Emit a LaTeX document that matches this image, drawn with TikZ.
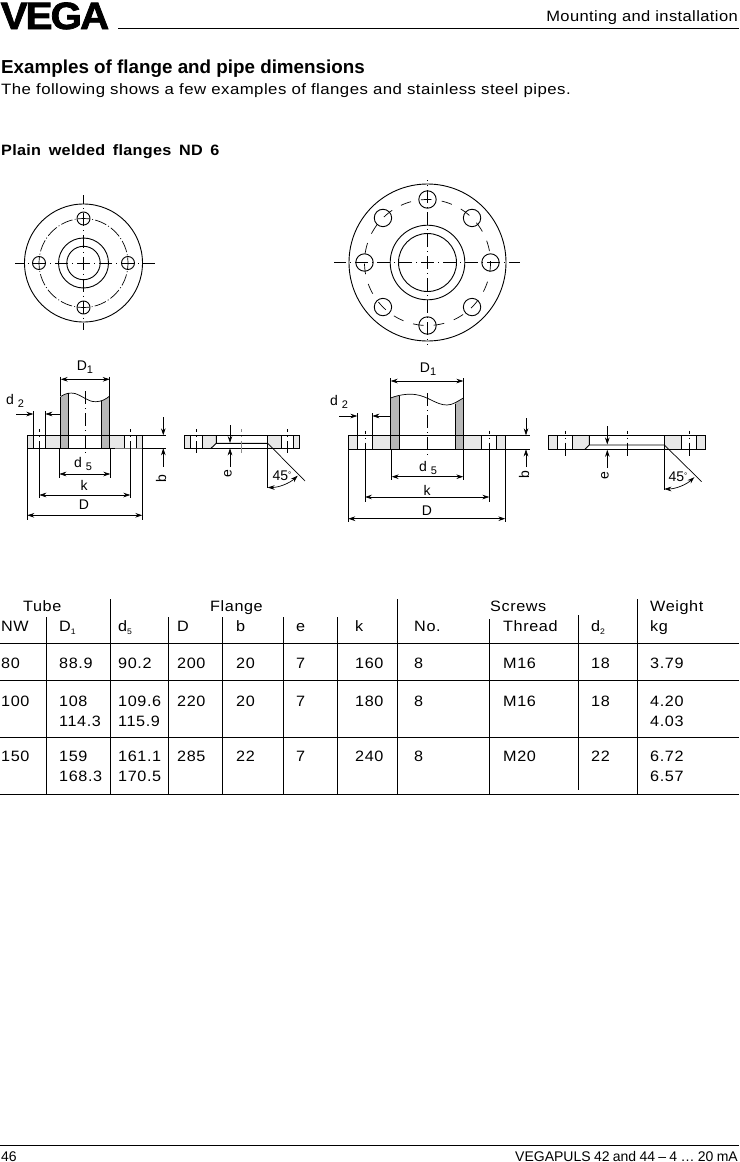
\documentclass[tikz,border=0pt]{standalone}
\usepackage{fontspec}
\setmainfont{Liberation Sans}
\newfontfamily\tsp[LetterSpace=4,FakeStretch=1.08]{Liberation Sans}
\newfontfamily\tsq[LetterSpace=3,FakeStretch=1.12]{Liberation Sans}
\newfontfamily\tsh[LetterSpace=2.7,FakeStretch=1.1]{Liberation Sans}
\newfontfamily\tspb[LetterSpace=2,FakeStretch=1.08,WordSpace=1.6]{Liberation Sans Bold}
\newfontfamily\ftf[WordSpace=0.85]{Liberation Sans}
\newfontfamily\logofont[LetterSpace=-5,FakeBold=2,FakeStretch=1.06]{Liberation Sans Bold}
\usetikzlibrary{arrows.meta}
\newcount\nn
\newcommand\tc[3]{\global\advance\nn by 1 \node[cell] (c\the\nn) at (#1,#2) {#3};}
\newcommand\dl[3]{\global\advance\nn by 1 \node[dlab] (c\the\nn) at (#1,#2) {#3};}
\newcommand\sbs[1]{\raisebox{-3pt}{\fontsize{8}{8}\selectfont #1}}
\newcommand\dsb[1]{\raisebox{-3pt}{\fontsize{11}{11}\selectfont #1}}
\newcommand\dg{\raisebox{3pt}{\fontsize{8}{8}\selectfont °}}
\definecolor{flangegray}{gray}{0.91}
\definecolor{wallgray}{gray}{0.72}
\tikzset{
  cell/.style={anchor=base west,inner sep=0pt,font=\tsp\fontsize{15}{18}\selectfont},
  dlab/.style={anchor=center,inner sep=0pt,font=\fontsize{14}{16}\selectfont},
  heavy/.style={line width=0.9pt,black},
  thin line/.style={line width=0.7pt,black},
  cl/.style={line width=0.7pt,black,dash pattern=on 13pt off 4pt on 1pt off 4pt,dash phase=6.5pt},
  holecl/.style={line width=0.7pt,black,dash pattern=on 3pt off 4pt on 1pt off 4pt on 20pt off 0pt},
  dim/.style={line width=0.7pt,black,-{Stealth[length=7pt,width=4.6pt]}},
  dimb/.style={line width=0.7pt,black,{Stealth[length=7pt,width=4.6pt]}-{Stealth[length=7pt,width=4.6pt]}},
  rule/.style={line width=0.8pt,black},
  vrule/.style={line width=0.8pt,black}
}
\begin{document}
\begin{tikzpicture}[x=1pt,y=-1pt]
\useasboundingbox (0,0) rectangle (739,1162);
\fill[white] (0,0) rectangle (739,1162);

% ---- header / footer
\node[anchor=base west,inner sep=0pt,font=\logofont\fontsize{38}{38}\selectfont] (logo) at (0.5,29) {VEGA};
\draw[rule] (118,28.5) -- (739,28.5);
\node[anchor=base east,inner sep=0pt,font=\tsh\fontsize{15}{18}\selectfont] (hdr) at (738,21) {Mounting and installation};
\node[anchor=base west,inner sep=0pt,font=\bfseries\fontsize{18.8}{20}\selectfont] (title) at (1,73) {Examples of flange and pipe dimensions};
\node[anchor=base west,inner sep=0pt,font=\tsq\fontsize{15}{18}\selectfont] (intro) at (1,94) {The following shows a few examples of flanges and stainless steel pipes.};
\node[anchor=base west,inner sep=0pt,font=\tspb\fontsize{15}{18}\selectfont] (sub) at (1,155) {Plain welded flanges ND 6};
\draw[rule] (0,1145) -- (739,1145);
\node[anchor=base west,inner sep=0pt,font=\fontsize{14}{16}\selectfont] (pg) at (1,1161) {46};
\node[anchor=base east,inner sep=0pt,font=\ftf\fontsize{14}{16}\selectfont] (ft) at (738,1161) {VEGAPULS 42 and 44 – 4 … 20 mA};

% ---- top view, left
\coordinate (A) at (83.5,263);
\draw[heavy] (A) circle[radius=59pt] (A) circle[radius=25pt] (A) circle[radius=16.7pt];
\draw[line width=0.7pt,dash pattern=on 12pt off 2.25pt on 1pt off 2.25pt,dash phase=6pt] (A) ++(0:44.5) arc[start angle=0,end angle=360,radius=44.5];
\foreach \a in {0,90,180,270} \draw[heavy] (A) ++(\a:44.5) circle[radius=6.5pt];
\draw[cl] (A) -- +(0:71.5);
\draw[cl] (A) -- +(180:68.5);
\draw[cl] (A) -- +(90:67);
\draw[cl] (A) -- +(270:68);

% ---- top view, right
\coordinate (B) at (427.5,262.5);
\draw[heavy] (B) circle[radius=78.5pt] (B) circle[radius=37.3pt] (B) circle[radius=29pt];
\draw[line width=0.7pt,dash pattern=on 10.7pt off 10.13pt,dash phase=1.3pt] (B) ++(0:63) arc[start angle=0,end angle=360,radius=63];
\foreach \a in {0,45,...,315} \draw[heavy] (B) ++(\a:63) circle[radius=8.7pt];
\draw[cl] (B) -- +(0:92.5);
\draw[cl] (B) -- +(180:93.5);
\draw[cl] (B) -- +(90:82.5);
\draw[cl] (B) -- +(270:82.5);

% ---- side view, left
\fill[flangegray] (27.3,435.3) rectangle (142.3,448.3);
\fill[white] (33.3,435.3) rectangle (45.3,448.3) (124.3,435.3) rectangle (136.3,448.3);
\fill[wallgray] (60.7,396.5) .. controls (66,393) and (70,392.5) .. (75,393.5) .. controls (83,396) and (88,402) .. (96,401.7) .. controls (102,401.5) and (106,399) .. (109.7,396) -- (109.7,448.3) -- (60.7,448.3) -- cycle;
\fill[white] (68.3,388) rectangle (101.3,448.3);
\draw[line width=0.7pt] (60.7,396.5) .. controls (66,393) and (70,392.5) .. (75,393.5) .. controls (83,396) and (88,402) .. (96,401.7) .. controls (102,401.5) and (106,399) .. (109.7,396);
\draw[heavy] (60.7,396.5) -- (60.7,448.3) (109.7,396) -- (109.7,448.3) (68.3,393) -- (68.3,448.3) (101.3,401) -- (101.3,448.3);
\draw[heavy] (27.3,448.3) -- (27.3,435.3) -- (142.3,435.3) -- (142.3,448.3);
\draw[heavy] (27.3,448.3) -- (115,448.3);
\draw[line width=0.7pt,black!55] (115,448.3) -- (142.3,448.3);
\draw[heavy] (33.3,435.3) -- (33.3,448.3) (45.3,435.3) -- (45.3,448.3) (124.3,435.3) -- (124.3,448.3) (136.3,435.3) -- (136.3,448.3);
\draw[line width=0.7pt,dash pattern=on 13pt off 4pt on 1pt off 4pt] (85,391) -- (85,453);
\draw[holecl] (39.3,429) -- (39.3,448);
\draw[holecl] (130.3,429) -- (130.3,448);
% dimensions
\draw[thin line] (60.7,376.5) -- (60.7,396) (109.7,376.5) -- (109.7,396);
\draw[dimb] (60.7,379.3) -- (109.7,379.3);
\draw[thin line] (33.3,411) -- (33.3,435) (45.3,411) -- (45.3,435);
\draw[dim] (16,414) -- (33.3,414);
\draw[dim] (60.7,414) -- (45.3,414);
\draw[thin line] (59.3,448) -- (59.3,478) (110.3,448) -- (110.3,478);
\draw[dimb] (59.3,474) -- (110.3,474);
\draw[thin line] (39.3,448) -- (39.3,498) (130.3,448) -- (130.3,498);
\draw[dimb] (39.3,495) -- (130.3,495);
\draw[thin line] (27.3,448) -- (27.3,520) (142.3,448) -- (142.3,520);
\draw[dimb] (27.3,515.3) -- (142.3,515.3);
\draw[thin line] (142.3,435.3) -- (166,435.3) (142.3,448.3) -- (166,448.3);
\draw[dim] (163.3,417) -- (163.3,435.3);
\draw[dim] (163.3,466.7) -- (163.3,448.3);
\dl{85}{367}{D\dsb{1}}
\dl{15}{401}{d \dsb{2}}
\dl{83}{463.5}{d \dsb{5}}
\dl{84}{485}{k}
\dl{84}{504.5}{D}
\node[dlab,rotate=90] (bL) at (161,479) {b};

% ---- detail, left
\fill[flangegray] (184.3,435.3) rectangle (299.3,448.3);
\fill[white] (190.3,435.3) rectangle (202.7,448.3) (281.7,435.3) rectangle (293.7,448.3);
\fill[white] (216.3,435.3) -- (267.7,435.3) -- (267.7,448.3) -- (211,448.3) -- (216.3,443.3) -- cycle;
\draw[heavy] (184.3,435.3) rectangle (299.3,448.3);
\draw[heavy] (190.3,435.3) -- (190.3,448.3) (202.7,435.3) -- (202.7,448.3) (281.7,435.3) -- (281.7,448.3) (293.7,435.3) -- (293.7,448.3);
\draw[heavy] (211,448.3) -- (216.3,443.3) -- (267.7,443.3) (216.3,435.3) -- (216.3,443.3);
\draw[thin line] (267.7,435.3) -- (267.7,488.3);
\draw[thin line] (267.7,443.3) -- (305,481);
\draw[dimb] (267.7,487.5) arc[start angle=90,end angle=47,radius=44];
\draw[holecl] (196.7,429) -- (196.7,453);
\draw[holecl] (287.3,429) -- (287.3,453);
\draw[holecl,line width=0.9pt,black!45] (241.7,429) -- (241.7,453);
\draw[dim] (230,425) -- (230,443);
\draw[dim] (230,466.7) -- (230,448.3);
\node[dlab,rotate=90] (eL) at (228,474) {e};
\dl{282}{476}{45\dg}

% ---- side view, right
\fill[flangegray] (348.3,435.3) rectangle (505.3,449.3);
\fill[white] (357.3,435.3) rectangle (372.3,449.3) (481.3,435.3) rectangle (496.3,449.3);
\fill[wallgray] (390.7,398) .. controls (398,395) and (408,393.5) .. (415,394.5) .. controls (428,396) and (436,405) .. (447,405) .. controls (453,405) and (458,401) .. (463.3,398) -- (463.3,449.3) -- (390.7,449.3) -- cycle;
\fill[white] (399.3,388) rectangle (455,449.3);
\draw[line width=0.7pt] (390.7,398) .. controls (398,395) and (408,393.5) .. (415,394.5) .. controls (428,396) and (436,405) .. (447,405) .. controls (453,405) and (458,401) .. (463.3,398);
\draw[heavy] (390.7,398) -- (390.7,449.3) (463.3,398) -- (463.3,449.3) (399.3,396) -- (399.3,449.3) (455,403.5) -- (455,449.3);
\draw[heavy] (348.3,435.3) rectangle (505.3,449.3);
\draw[heavy] (357.3,435.3) -- (357.3,449.3) (372.3,435.3) -- (372.3,449.3) (481.3,435.3) -- (481.3,449.3) (496.3,435.3) -- (496.3,449.3);
\draw[line width=0.7pt,dash pattern=on 13pt off 4pt on 1pt off 4pt] (427.3,393) -- (427.3,458);
\draw[holecl] (365,430.5) -- (365,449);
\draw[holecl] (489.3,430.5) -- (489.3,449);
% dimensions
\draw[thin line] (390.7,378) -- (390.7,398) (463.3,378) -- (463.3,398);
\draw[dimb] (390.7,381) -- (463.3,381);
\draw[thin line] (357.3,413) -- (357.3,435) (372.3,413) -- (372.3,435);
\draw[dim] (339,416) -- (357.3,416);
\draw[dim] (390.7,416) -- (372.3,416);
\draw[thin line] (391.7,449) -- (391.7,480) (463.3,449) -- (463.3,480);
\draw[dimb] (391.7,476.7) -- (463.3,476.7);
\draw[thin line] (365,449) -- (365,501.7) (489.3,449) -- (489.3,501.7);
\draw[dimb] (365,497) -- (489.3,497);
\draw[thin line] (348.3,449) -- (348.3,521.7) (505.3,449) -- (505.3,521.7);
\draw[dimb] (348.3,518.7) -- (505.3,518.7);
\draw[thin line] (505.3,435.3) -- (530,435.3) (505.3,449.3) -- (530,449.3);
\draw[dim] (526,418.3) -- (526,435.3);
\draw[dim] (526,467) -- (526,449.3);
\dl{428}{369}{D\dsb{1}}
\dl{339}{402}{d \dsb{2}}
\dl{428}{467.5}{d \dsb{5}}
\dl{427}{490}{k}
\dl{427}{510.7}{D}
\node[dlab,rotate=90] (bR) at (524,475) {b};

% ---- detail, right
\fill[flangegray] (548.3,435.3) rectangle (705.7,449.3);
\fill[white] (557.3,435.3) rectangle (572.3,449.3) (681.7,435.3) rectangle (696.7,449.3);
\fill[white] (589.3,435.3) -- (664.3,435.3) -- (664.3,449.3) -- (585,449.3) -- (589.3,445) -- cycle;
\draw[heavy] (548.3,435.3) rectangle (705.7,449.3);
\draw[heavy] (557.3,435.3) -- (557.3,449.3) (572.3,435.3) -- (572.3,449.3) (681.7,435.3) -- (681.7,449.3) (696.7,435.3) -- (696.7,449.3);
\draw[heavy] (585,449.3) -- (589.3,445) -- (664.3,445) (589.3,435.3) -- (589.3,445);
\draw[thin line] (664.3,435.3) -- (664.3,490);
\draw[thin line] (664.3,445) -- (701.7,481.7);
\draw[dimb] (664.3,489) arc[start angle=90,end angle=47,radius=44];
\draw[holecl] (565.7,430.7) -- (565.7,456);
\draw[holecl] (689.3,430.7) -- (689.3,456);
\draw[holecl] (627.3,430.7) -- (627.3,456);
\draw[dim] (607.3,426) -- (607.3,444.5);
\draw[dim] (607.3,468) -- (607.3,449.8);
\node[dlab,rotate=90] (eR) at (605,476) {e};
\dl{678}{477}{45\dg}

% ---- table rules
\foreach \y in {643.3,680,737,794} \draw[rule] (0,\y) -- (739,\y);
\foreach \x in {46.7,168.3,222.3,283.7,337.3} \draw[vrule] (\x,617) -- (\x,794);
\foreach \x in {110.3,397.3,637.3} \draw[vrule] (\x,599) -- (\x,794);
\draw[vrule] (489.3,619) -- (489.3,794);
\draw[vrule] (578.3,615) -- (578.3,790);

% ---- table text
\tc{23}{611.7}{Tube} \tc{210}{611.7}{Flange} \tc{490}{611.7}{Screws} \tc{650}{611.7}{Weight}
\tc{1}{631.7}{NW} \tc{59}{631.7}{D\sbs{1}} \tc{118}{631.7}{d\sbs{5}} \tc{177}{631.7}{D} \tc{236}{631.7}{b}
\tc{296}{631.7}{e} \tc{355}{631.7}{k} \tc{414}{631.7}{No.} \tc{503}{631.7}{Thread} \tc{591}{631.7}{d\sbs{2}} \tc{650}{631.7}{kg}

\tc{1}{668.5}{80} \tc{59}{668.5}{88.9} \tc{118}{668.5}{90.2} \tc{177}{668.5}{200} \tc{236}{668.5}{20} \tc{296}{668.5}{7}
\tc{355}{668.5}{160} \tc{414}{668.5}{8} \tc{503}{668.5}{M16} \tc{591}{668.5}{18} \tc{650}{668.5}{3.79}

\tc{1}{706}{100} \tc{59}{706}{108} \tc{118}{706}{109.6} \tc{177}{706}{220} \tc{236}{706}{20} \tc{296}{706}{7}
\tc{355}{706}{180} \tc{414}{706}{8} \tc{503}{706}{M16} \tc{591}{706}{18} \tc{650}{706}{4.20}
\tc{59}{726}{114.3} \tc{118}{726}{115.9} \tc{650}{726}{4.03}

\tc{1}{761.7}{150} \tc{59}{761.7}{159} \tc{118}{761.7}{161.1} \tc{177}{761.7}{285} \tc{236}{761.7}{22} \tc{296}{761.7}{7}
\tc{355}{761.7}{240} \tc{414}{761.7}{8} \tc{503}{761.7}{M20} \tc{591}{761.7}{22} \tc{650}{761.7}{6.72}
\tc{59}{781.7}{168.3} \tc{118}{781.7}{170.5} \tc{650}{781.7}{6.57}
\end{tikzpicture}
\end{document}
